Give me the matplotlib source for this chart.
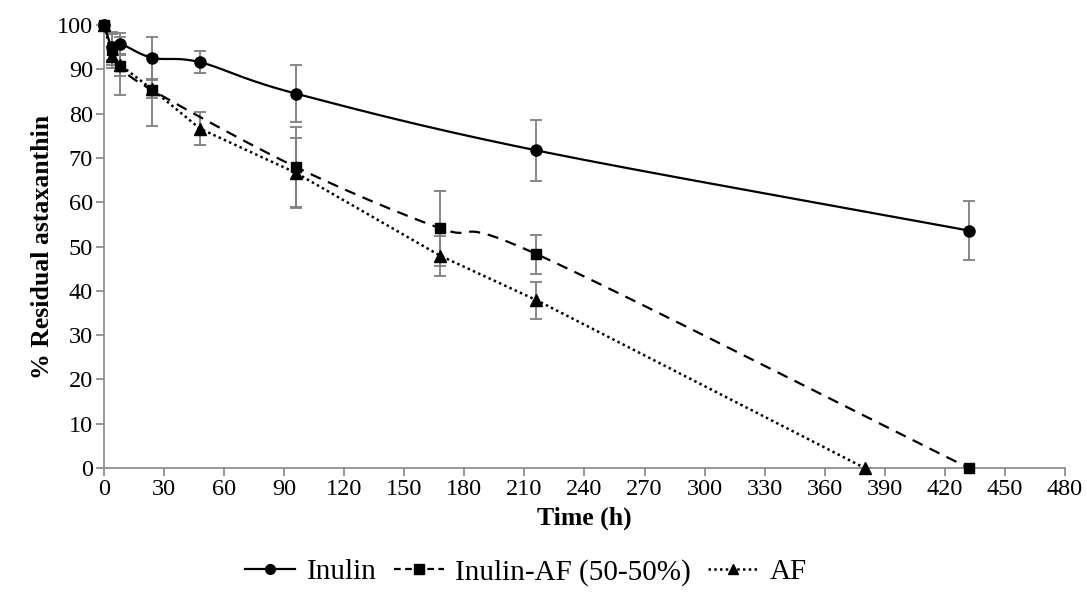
import numpy as np
import matplotlib
matplotlib.use("Agg")
import matplotlib.pyplot as plt
from matplotlib.lines import Line2D

plt.rcParams['font.family'] = ['Liberation Serif', 'DejaVu Serif']

time_inulin = [0, 4, 8, 24, 48, 96, 216, 432]
inulin = [100, 95.0, 95.8, 92.6, 91.6, 84.5, 71.7, 53.6]
inulin_err = [0.5, 3.0, 2.5, 4.7, 2.5, 6.5, 6.8, 6.6]

time_mix = [0, 4, 8, 24, 96, 168, 216, 432]
mix = [100, 94.4, 90.7, 85.3, 67.9, 54.1, 48.3, 0]
mix_err = [0.5, 4.0, 6.5, 8.0, 9.0, 8.5, 4.4, 0]

time_af = [0, 4, 8, 24, 48, 96, 168, 216, 380]
af = [100, 93.0, 91.0, 85.5, 76.6, 66.6, 47.9, 37.9, 0]
af_err = [0.5, 2.0, 2.5, 2.0, 3.7, 8.0, 4.5, 4.2, 0]

x_ticks = list(range(0, 481, 30))
y_ticks = list(range(0, 101, 10))
labels = ['Inulin', 'Inulin-AF (50-50%)', 'AF']


def smooth_curve(x, y, n=30):
    # Excel-like smoothed line (Bezier through the points)
    x = np.asarray(x, float)
    y = np.asarray(y, float)
    px = np.concatenate([[2 * x[0] - x[1]], x, [2 * x[-1] - x[-2]]])
    py = np.concatenate([[2 * y[0] - y[1]], y, [2 * y[-1] - y[-2]]])
    xs, ys = [], []
    t = np.linspace(0, 1, n)
    for i in range(1, len(px) - 2):
        b0x, b0y = px[i], py[i]
        b1x = px[i] + (px[i + 1] - px[i - 1]) / 6
        b1y = py[i] + (py[i + 1] - py[i - 1]) / 6
        b2x = px[i + 1] - (px[i + 2] - px[i]) / 6
        b2y = py[i + 1] - (py[i + 2] - py[i]) / 6
        b3x, b3y = px[i + 1], py[i + 1]
        bx = (1 - t) ** 3 * b0x + 3 * (1 - t) ** 2 * t * b1x + 3 * (1 - t) * t ** 2 * b2x + t ** 3 * b3x
        by = (1 - t) ** 3 * b0y + 3 * (1 - t) ** 2 * t * b1y + 3 * (1 - t) * t ** 2 * b2y + t ** 3 * b3y
        xs.append(bx)
        ys.append(by)
    return np.concatenate(xs), np.concatenate(ys)


fig = plt.figure(figsize=(10.87, 6.06), dpi=100)
ax = fig.add_axes([0.0957, 0.2277, 0.884, 0.731])

ecol = '#7f7f7f'
ekw = dict(fmt='none', ecolor=ecol, elinewidth=1.3, capsize=4, capthick=1.3, zorder=2)
ax.errorbar(time_inulin, inulin, yerr=inulin_err, **ekw)
ax.errorbar(time_mix, mix, yerr=mix_err, **ekw)
ax.errorbar(time_af, af, yerr=af_err, **ekw)

sx, sy = smooth_curve(time_inulin, inulin)
ax.plot(sx, sy, color='black', lw=1.6, ls='-', zorder=3)
ax.plot(time_inulin, inulin, 'o', color='black', ms=8, zorder=4)

mx, my = smooth_curve(time_mix, mix)
ax.plot(mx, my, color='black', lw=1.6, ls=(0, (5, 3.5)), zorder=3)
ax.plot(time_mix, mix, 's', color='black', ms=7.5, zorder=4)

ax.plot(time_af, af, color='black', lw=1.8, ls=(0, (1, 1.3)), zorder=3)
ax.plot(time_af, af, '^', color='black', ms=8.5, zorder=4)

ax.set_xlim(0, 480)
ax.set_ylim(0, 100)
ax.set_xticks(x_ticks)
ax.set_yticks(y_ticks)
for s in ['top', 'right']:
    ax.spines[s].set_visible(False)
for s in ['left', 'bottom']:
    ax.spines[s].set_color('#868686')
    ax.spines[s].set_linewidth(1.2)
ax.tick_params(axis='both', direction='out', length=6, width=1.2, color='#868686',
               labelsize=17.5, pad=2)
for a in ax.get_children():
    if hasattr(a, 'set_clip_on'):
        a.set_clip_on(False)

ax.set_xlabel('Time (h)', fontsize=18.5, fontweight='bold', labelpad=5)
ax.set_ylabel('% Residual astaxanthin', fontsize=18.5, fontweight='bold', labelpad=2)

handles = [
    Line2D([], [], color='black', lw=1.6, ls='-', marker='o', ms=7),
    Line2D([], [], color='black', lw=1.6, ls=(0, (3, 2)), marker='s', ms=6.5),
    Line2D([], [], color='black', lw=1.8, ls=(0, (1, 1.3)), marker='^', ms=7.5),
]
fig.legend(handles, labels, loc='center', bbox_to_anchor=(0.484, 0.056), ncol=3,
           frameon=False, fontsize=21, handlelength=1.7, handletextpad=0.4,
           columnspacing=0.6, borderpad=0.1)

fig.savefig('out.png', dpi=100)
